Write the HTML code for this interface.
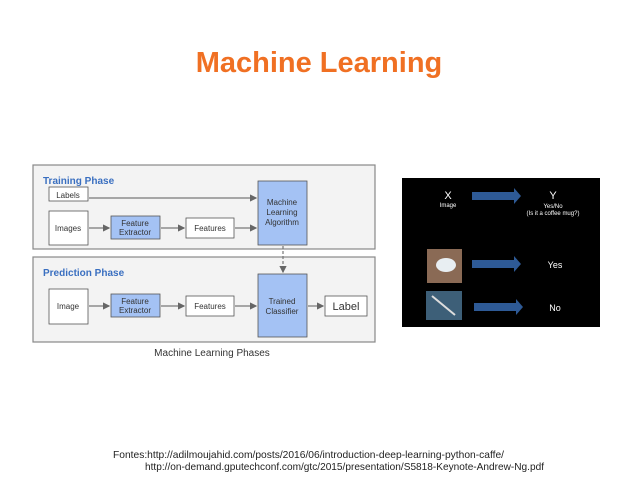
<!DOCTYPE html><html><head><meta charset="utf-8"><style>html,body{margin:0;padding:0;background:#fff;width:638px;height:479px;overflow:hidden}</style></head><body>
<svg width="638" height="479" xmlns="http://www.w3.org/2000/svg" font-family="Liberation Sans, sans-serif">
<defs><marker id="a" markerWidth="6" markerHeight="6" refX="5" refY="3" orient="auto"><path d="M0,0L6,3L0,6z" fill="#666"/></marker></defs>
<text x="319" y="72" text-anchor="middle" font-size="29" font-weight="bold" fill="#F07023">Machine Learning</text>
<rect x="33" y="165" width="342" height="84" fill="#f3f3f3" stroke="#888" stroke-width="1.2"/>
<rect x="33" y="257" width="342" height="85" fill="#f3f3f3" stroke="#888" stroke-width="1.2"/>
<text x="43" y="184" font-size="10" font-weight="bold" fill="#3a6fc0">Training Phase</text>
<text x="43" y="276" font-size="10" font-weight="bold" fill="#3a6fc0">Prediction Phase</text>
<g stroke="#555" stroke-width="0.8" font-size="8" fill="#fff">
<rect x="49" y="187" width="39" height="14"/><rect x="49" y="211" width="39" height="34"/>
<rect x="111" y="216" width="49" height="23" fill="#a4c2f4"/><rect x="186" y="218" width="48" height="20"/>
<rect x="258" y="181" width="49" height="64" fill="#a4c2f4"/>
<rect x="49" y="289" width="39" height="35"/><rect x="111" y="294" width="49" height="23" fill="#a4c2f4"/>
<rect x="186" y="296" width="48" height="20"/><rect x="258" y="274" width="49" height="63" fill="#a4c2f4"/>
<rect x="325" y="296" width="42" height="20"/>
</g>
<g stroke="#777" stroke-width="1.2" marker-end="url(#a)">
<line x1="89" y1="198" x2="256" y2="198"/><line x1="89" y1="228" x2="109" y2="228"/>
<line x1="161" y1="228" x2="184" y2="228"/><line x1="235" y1="228" x2="256" y2="228"/>
<line x1="89" y1="306" x2="109" y2="306"/><line x1="161" y1="306" x2="184" y2="306"/>
<line x1="235" y1="306" x2="256" y2="306"/><line x1="308" y1="306" x2="323" y2="306"/>
<line x1="283" y1="246" x2="283" y2="272" stroke-dasharray="3,2"/>
</g>
<g font-size="8" fill="#333" text-anchor="middle">
<text x="68" y="198">Labels</text><text x="68" y="231">Images</text>
<text x="135" y="226">Feature</text><text x="135" y="235">Extractor</text>
<text x="210" y="231">Features</text>
<text x="282" y="205">Machine</text><text x="282" y="215">Learning</text><text x="282" y="225">Algorithm</text>
<text x="68" y="309">Image</text>
<text x="135" y="304">Feature</text><text x="135" y="313">Extractor</text>
<text x="210" y="309">Features</text>
<text x="282" y="304">Trained</text><text x="282" y="314">Classifier</text>
<text x="346" y="310" font-size="11">Label</text>
<text x="212" y="356" font-size="10">Machine Learning Phases</text>
</g>
<rect x="402" y="178" width="198" height="149" fill="#000"/>
<g fill="#2e5a96">
<path d="M472,192h42v-4l7,8l-7,8v-4h-42z"/>
<path d="M472,260h42v-4l7,8l-7,8v-4h-42z"/>
<path d="M474,303h42v-4l7,8l-7,8v-4h-42z"/>
</g>
<rect x="427" y="249" width="35" height="34" fill="#8a6a55"/>
<ellipse cx="446" cy="265" rx="10" ry="7" fill="#e8eef2"/>
<rect x="426" y="291" width="36" height="29" fill="#3d5f78"/>
<line x1="432" y1="296" x2="455" y2="315" stroke="#ddd" stroke-width="2"/>
<g fill="#fff" text-anchor="middle" font-size="6">
<text x="448" y="199" font-size="11">X</text><text x="448" y="207">Image</text>
<text x="553" y="199" font-size="11">Y</text><text x="553" y="208">Yes/No</text><text x="553" y="215">(Is it a coffee mug?)</text>
<text x="555" y="268" font-size="9">Yes</text><text x="555" y="311" font-size="9">No</text>
</g>
<g font-size="10.5" fill="#222">
<text x="113" y="458" textLength="391" lengthAdjust="spacingAndGlyphs">Fontes:http://adilmoujahid.com/posts/2016/06/introduction-deep-learning-python-caffe/</text>
<text x="145" y="470" textLength="399" lengthAdjust="spacingAndGlyphs">http://on-demand.gputechconf.com/gtc/2015/presentation/S5818-Keynote-Andrew-Ng.pdf</text>
</g>
</svg></body></html>
